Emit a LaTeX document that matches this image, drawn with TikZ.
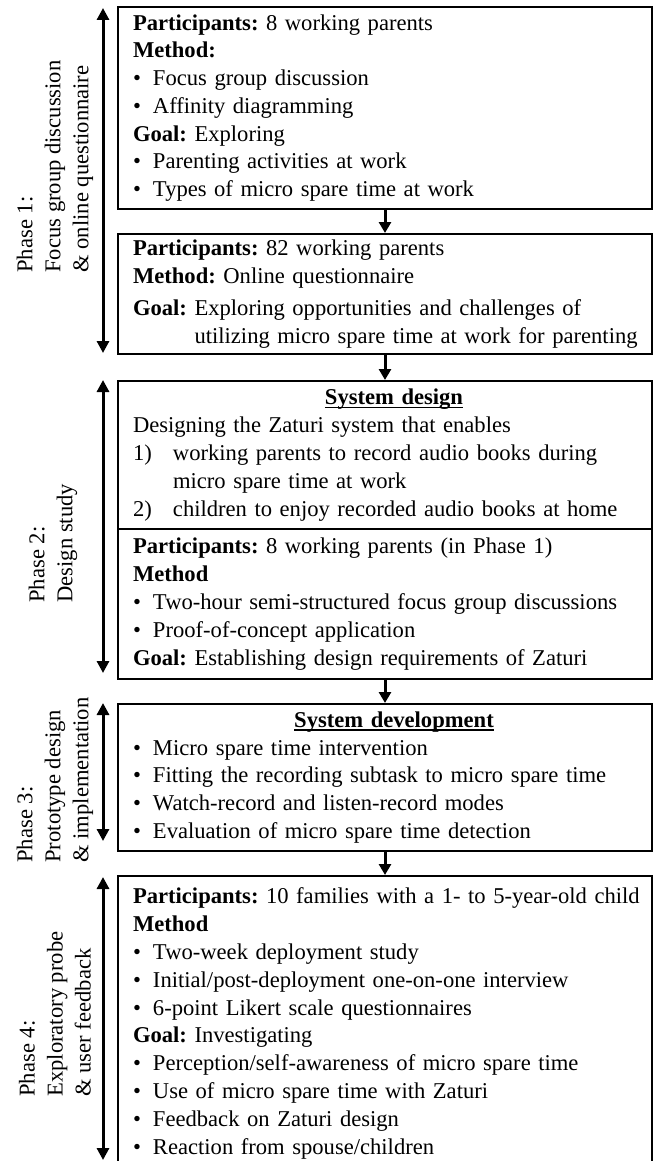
\documentclass[tikz,border=0pt]{standalone}
\usepackage{fontspec}
\setmainfont{Liberation Serif}
\usetikzlibrary{arrows.meta}
\frenchspacing
\tikzstyle{phasebox} = [rectangle, draw=black, line width=1pt, text width=252pt, inner xsep=7.5pt, inner ysep=0pt, align=left, anchor=north west, font=\fontsize{11.3}{13.9}\selectfont]
\tikzstyle{phaselabel} = [rotate=90, anchor=west, align=left, inner sep=0pt, font=\fontsize{11.3}{14}\selectfont]
\tikzstyle{arrow} = [line width=1.5pt, -{Triangle[length=5.5pt,width=6pt]}]
\tikzstyle{phasespan} = [line width=1.5pt, {Triangle[length=6pt,width=6pt]}-{Triangle[length=6pt,width=6pt]}]
\newcommand{\bul}{\makebox[10pt][l]{\textbullet}}
\newcommand{\heading}[1]{\makebox[\hsize]{\hspace*{9pt}\setbox0\hbox{\textbf{#1}}\rlap{\rule[-1.6pt]{\wd0}{0.7pt}}\box0}}

\begin{document}
\begin{tikzpicture}[x=0.5pt, y=-0.5pt]
\useasboundingbox (0,0) rectangle (656,1161);

% boxes
\node (p1a) [phasebox, minimum height=101pt] at (117,6) {\textbf{Participants:} 8 working parents\\
\textbf{Method:}\\
\bul Focus group discussion\\
\bul Affinity diagramming\\
\textbf{Goal:} Exploring\\
\bul Parenting activities at work\\
\bul Types of micro spare time at work};
\node (p1b) [phasebox, minimum height=60pt] at (117,233) {\textbf{Participants:} 82 working parents\\
\textbf{Method:} Online questionnaire\\[2pt]
\textbf{Goal:} Exploring opportunities and challenges of\\
\mbox{\hphantom{\textbf{Goal:}\ }utilizing micro spare time at work for parenting}};
\node (p2a) [phasebox, minimum height=74pt] at (117,380) {\heading{System design}\\
Designing the Zaturi system that enables\\
\makebox[20pt][l]{1)}working parents to record audio books during\\
\hspace*{20pt}micro spare time at work\\
\makebox[20pt][l]{2)}children to enjoy recorded audio books at home};
\node (p2b) [phasebox, minimum height=75pt] at (117,528) {\textbf{Participants:} 8 working parents (in Phase 1)\\
\textbf{Method}\\
\bul Two-hour semi-structured focus group discussions\\
\bul Proof-of-concept application\\
\textbf{Goal:} Establishing design requirements of Zaturi};
\node (p3) [phasebox, minimum height=73.5pt] at (117,703) {\heading{System development}\\
\bul Micro spare time intervention\\
\bul Fitting the recording subtask to micro spare time\\
\bul Watch-record and listen-record modes\\
\bul Evaluation of micro spare time detection};
\node (p4) [phasebox, inner ysep=6pt] at (117,875) {\mbox{\textbf{Participants:} 10 families with a 1- to 5-year-old child}\\
\textbf{Method}\\
\bul Two-week deployment study\\
\bul Initial/post-deployment one-on-one interview\\
\bul 6-point Likert scale questionnaires\\
\textbf{Goal:} Investigating\\
\bul Perception/self-awareness of micro spare time\\
\bul Use of micro spare time with Zaturi\\
\bul Feedback on Zaturi design\\
\bul Reaction from spouse/children};

\draw [arrow] (p1a) -- (p1b);
\draw [arrow] (p1b) -- (p2a);
\draw [arrow] (p2b) -- (p3);
\draw [arrow] (p3) -- (p4);

% phase labels
\node (lab1) [phaselabel] at (55,273) {Phase 1:\\Focus group discussion\\\& online questionnaire};
\node (lab2) [phaselabel] at (53,603) {Phase 2:\\Design study};
\node (lab3) [phaselabel] at (55,863) {Phase 3:\\Prototype design\\\& implementation};
\node (lab4) [phaselabel] at (55,1097) {Phase 4:\\Exploratory probe\\\& user feedback};

\coordinate (s1top) at (103,8);
\coordinate (s1bot) at (103,353);
\coordinate (s2top) at (103,380);
\coordinate (s2bot) at (103,673);
\coordinate (s3top) at (103,703);
\coordinate (s3bot) at (103,841);
\coordinate (s4top) at (103,877);
\coordinate (s4bot) at (103,1160);
\draw [phasespan] (s1top) -- (s1bot);
\draw [phasespan] (s2top) -- (s2bot);
\draw [phasespan] (s3top) -- (s3bot);
\draw [phasespan] (s4top) -- (s4bot);
\end{tikzpicture}
\end{document}
